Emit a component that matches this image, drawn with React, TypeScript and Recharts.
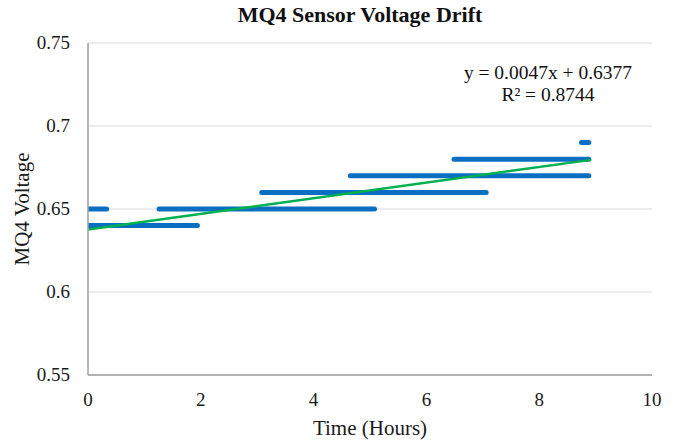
import { ComposedChart, Line, XAxis, YAxis, CartesianGrid } from 'recharts'

// quantized voltage levels and the time span (hours) each was held
const levels = [0.64, 0.65, 0.65, 0.66, 0.67, 0.68, 0.69]
const starts = [0.0, 0.0, 1.26, 3.08, 4.65, 6.49, 8.75]
const ends = [1.94, 0.33, 5.08, 7.06, 8.88, 8.88, 8.88]

// linear trendline endpoints: y = 0.0047x + 0.6377
const trendX = [0, 8.92]
const trendY = [0.6377, 0.6796]

const xTicks = [0, 2, 4, 6, 8, 10]
const yTicks = [0.55, 0.6, 0.65, 0.7, 0.75]

const font = '"Liberation Serif", "Times New Roman", serif'
const blue = '#0a6ec2'

const renderTick = (props: any) => {
  const { x, y, payload, orientation } = props
  const isX = orientation === 'bottom'
  return (
    <text
      key={payload.value}
      x={x}
      y={y}
      dy={isX ? 18 : 6}
      textAnchor={isX ? 'middle' : 'end'}
      style={{ fill: '#1a1a1a', fontSize: 19, fontFamily: font }}
    >
      {payload.value}
    </text>
  )
}

export default function App() {
  const segments = levels.map((v, i) => [
    { x: starts[i], y: v },
    { x: ends[i], y: v },
  ])
  const trend = trendX.map((x, i) => ({ x, y: trendY[i] }))

  return (
    <div style={{ position: 'absolute', left: 0, top: 0, width: 675, height: 441, background: '#fff', fontFamily: font }}>
      <div
        style={{
          position: 'absolute',
          left: 0,
          width: 720,
          top: 2,
          textAlign: 'center',
          fontWeight: 'bold',
          fontSize: 22,
          color: '#111',
        }}
      >
        MQ4 Sensor Voltage Drift
      </div>
      <div
        style={{
          position: 'absolute',
          left: 448,
          width: 200,
          top: 62,
          textAlign: 'center',
          fontSize: 19.5,
          lineHeight: '22px',
          color: '#111',
        }}
      >
        y = 0.0047x + 0.6377
        <br />
        R² = 0.8744
      </div>
      <ComposedChart
        width={675}
        height={441}
        margin={{ top: 43, right: 23, bottom: 0, left: 0 }}
        style={{ position: 'absolute', left: 0, top: 0, fontFamily: font }}
      >
        <CartesianGrid vertical={false} stroke="#d9d9d9" strokeWidth={1} />
        <XAxis
          type="number"
          dataKey="x"
          domain={[0, 10]}
          ticks={xTicks}
          allowDataOverflow
          height={66}
          tickLine={false}
          tickSize={6}
          tickMargin={7}
          axisLine={{ stroke: '#a0a0a0', strokeWidth: 1.5 }}
          tick={renderTick}
          label={{
            value: 'Time (Hours)',
            position: 'insideBottom',
            offset: 6,
            style: { fill: '#1a1a1a', fontSize: 21, fontFamily: font },
          }}
        />
        <YAxis
          type="number"
          dataKey="y"
          domain={[0.55, 0.75]}
          ticks={yTicks}
          allowDataOverflow
          width={88}
          tickLine={false}
          tickSize={6}
          tickMargin={12}
          axisLine={{ stroke: '#a0a0a0', strokeWidth: 1.5 }}
          tick={renderTick}
          label={{
            value: 'MQ4 Voltage',
            angle: -90,
            position: 'insideLeft',
            offset: 22,
            style: { fill: '#1a1a1a', fontSize: 21, fontFamily: font, textAnchor: 'middle' },
          }}
        />
        {segments.map((seg, i) => (
          <Line
            key={i}
            data={seg}
            dataKey="y"
            type="linear"
            stroke={blue}
            strokeWidth={5}
            strokeLinecap="round"
            dot={false}
            activeDot={false}
            isAnimationActive={false}
          />
        ))}
        <Line
          data={trend}
          dataKey="y"
          type="linear"
          stroke="#00b050"
          strokeWidth={2.5}
          dot={false}
          activeDot={false}
          isAnimationActive={false}
        />
      </ComposedChart>
    </div>
  )
}
